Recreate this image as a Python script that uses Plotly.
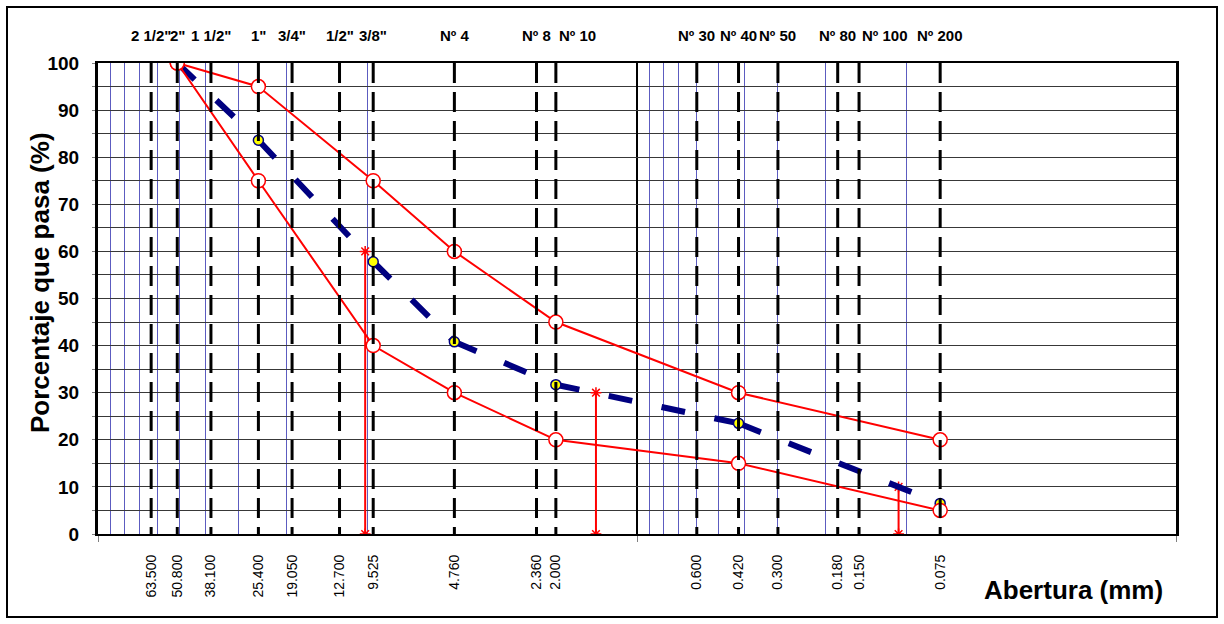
import math
import plotly.graph_objects as go

# ---------------- data ----------------
sieve_names = ['2 1/2"', '2"', '1 1/2"', '1"', '3/4"', '1/2"', '3/8"', 'Nº 4', 'Nº 8', 'Nº 10',
               'Nº 30', 'Nº 40', 'Nº 50', 'Nº 80', 'Nº 100', 'Nº 200']
sieve_sizes = [63.5, 50.8, 38.1, 25.4, 19.05, 12.7, 9.525, 4.76, 2.36, 2.0,
               0.6, 0.42, 0.3, 0.18, 0.15, 0.075]
sieve_labels = ['63.500', '50.800', '38.100', '25.400', '19.050', '12.700', '9.525', '4.760',
                '2.360', '2.000', '0.600', '0.420', '0.300', '0.180', '0.150', '0.075']

spec_sizes = [50.8, 25.4, 9.525, 4.76, 2.0, 0.42, 0.075]
upper_limit = [100, 95, 75, 60, 45, 30, 20]
lower_limit = [100, 75, 40, 30, 20, 15, 5]
passing = [100, 83.6, 57.8, 40.8, 31.7, 23.5, 6.5]

d_sizes = [10.2, 1.42, 0.107]   # D60, D30, D10
d_pct = [60, 30, 10]

major_grid = [100, 1, 0.01]
minor_grid = [90, 80, 70, 60, 50, 40, 30, 20, 10, 0.9, 0.8, 0.7, 0.6, 0.5, 0.4, 0.3, 0.2, 0.1]

# ---------------- style ----------------
FONT = "Liberation Sans, Arial, sans-serif"
XR = [2, -2]
LABEL_ROW_Y = (534 - 35.5) / 471   # paper y of the sieve-name row, above the plot

fig = go.Figure()

# sieve dashed lines (on overlay axis x2, which carries the bottom size labels)
for s in sieve_sizes:
    fig.add_trace(go.Scatter(x=[s, s], y=[100, 0], mode="lines", xaxis="x2",
                             line=dict(color="black", width=3, dash="20px,9px"),
                             hoverinfo="skip", showlegend=False))

# D60 / D30 / D10 markers
for d, p in zip(d_sizes, d_pct):
    fig.add_trace(go.Scatter(x=[d, d], y=[0, p], mode="lines+markers",
                             line=dict(color="red", width=2),
                             marker=dict(symbol="asterisk-open", size=9,
                                         line=dict(color="red", width=1.5)),
                             showlegend=False))

# gradation curve, dash pattern restarting at every point
for i in range(len(spec_sizes) - 1):
    fig.add_trace(go.Scatter(x=spec_sizes[i:i + 2], y=passing[i:i + 2], mode="lines",
                             line=dict(color="#000080", width=6, dash="24px,30px"),
                             showlegend=False, hoverinfo="skip"))
fig.add_trace(go.Scatter(x=spec_sizes, y=passing, mode="markers",
                         marker=dict(symbol="circle", size=10, color="yellow",
                                     line=dict(color="#000080", width=1.5)),
                         showlegend=False))

# specification envelopes
for lim in (upper_limit, lower_limit):
    fig.add_trace(go.Scatter(x=spec_sizes, y=lim, mode="lines+markers",
                             line=dict(color="red", width=2),
                             marker=dict(symbol="circle", size=14, color="white",
                                         line=dict(color="red", width=1.5)),
                             showlegend=False))

# sieve names above the plot (log axis: annotation x is log10 of the size)
name_annotations = []
for n, s in zip(sieve_names, sieve_sizes):
    shifted = n in ("Nº 10", "Nº 100")
    name_annotations.append(dict(
        text=n, xref="x", yref="paper", x=math.log10(s), y=LABEL_ROW_Y, showarrow=False,
        xanchor="left" if shifted else "center", yanchor="middle",
        xshift=1 if shifted else 0,
        font=dict(size=15, family=FONT, weight="bold", color="black")))

fig.update_layout(
    width=1224, height=624,
    margin=dict(l=98, r=48, t=63, b=90),
    paper_bgcolor="white", plot_bgcolor="white",
    font=dict(family=FONT, color="black"),
    xaxis=dict(type="log", range=XR, tickmode="array", tickvals=major_grid,
               showticklabels=False, ticks="outside", ticklen=6, tickcolor="#808080",
               showgrid=True, gridcolor="black", gridwidth=2,
               minor=dict(tickmode="array", tickvals=minor_grid, showgrid=True,
                          gridcolor="#5c5cc0", gridwidth=1, ticks=""),
               showline=True, linecolor="black", linewidth=2, mirror=True, zeroline=False),
    xaxis2=dict(type="log", range=XR, overlaying="x", side="bottom", anchor="y",
                tickmode="array", tickvals=sieve_sizes, ticktext=sieve_labels,
                tickangle=-90, ticks="", showgrid=False, showline=False,
                tickfont=dict(size=14, family=FONT), ticklabelstandoff=17),
    yaxis=dict(range=[0, 100], tickmode="array", tickvals=list(range(0, 101, 10)),
               tickfont=dict(size=19, family=FONT, weight="bold"),
               ticks="outside", ticklen=3, tickcolor="#808080",
               showgrid=True, gridcolor="#383838", gridwidth=1,
               minor=dict(dtick=5, showgrid=True, gridcolor="#383838", gridwidth=1,
                          ticks="outside", ticklen=3, tickcolor="#808080"),
               showline=True, linecolor="black", linewidth=3, mirror=True, zeroline=False,
               ticklabelstandoff=9),
    annotations=name_annotations + [
        dict(text="Porcentaje que pasa (%)", textangle=-90, xref="paper", yref="paper",
             x=(40 - 98) / 1078, y=(534 - 283) / 471, showarrow=False,
             font=dict(size=26, family=FONT, weight="bold"), xanchor="center", yanchor="middle"),
        dict(text="Abertura (mm)", xref="paper", yref="paper",
             x=(1073 - 98) / 1078, y=(534 - 590) / 471, showarrow=False,
             font=dict(size=26, family=FONT, weight="bold"), xanchor="center", yanchor="middle"),
    ],
    shapes=[dict(type="rect", xref="paper", yref="paper",
                 x0=(7 - 98) / 1078, x1=(1217 - 98) / 1078,
                 y0=(534 - 617) / 471, y1=(534 - 7) / 471,
                 line=dict(color="black", width=2), fillcolor="rgba(0,0,0,0)", layer="below")],
)

fig.write_html("out.html", config={"displayModeBar": False},
               post_script="document.body.style.margin='0px';document.body.style.overflow='hidden';")
